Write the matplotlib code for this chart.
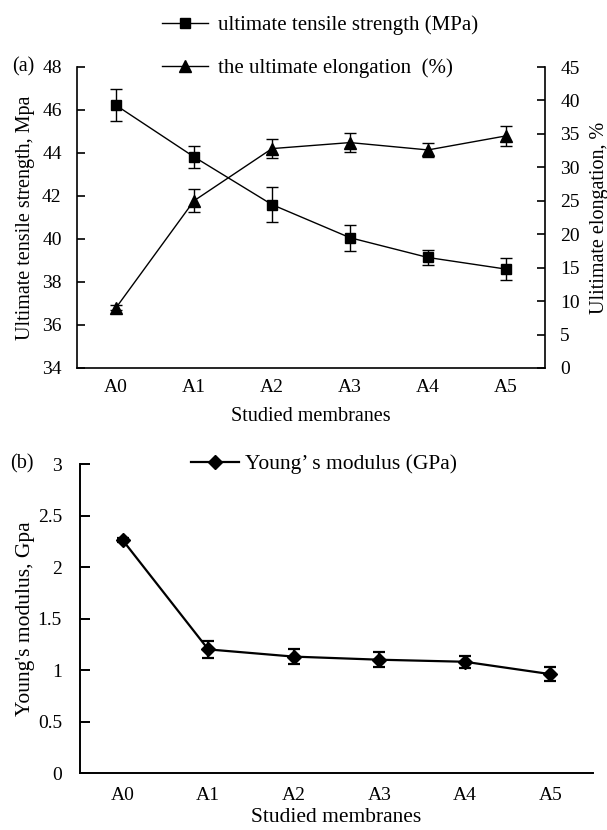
import matplotlib
matplotlib.use("Agg")
import matplotlib.pyplot as plt
from matplotlib.lines import Line2D

plt.rcParams['font.family'] = ['Liberation Serif', 'DejaVu Serif']

categories = ["A0", "A1", "A2", "A3", "A4", "A5"]
uts = [46.22, 43.82, 41.6, 40.06, 39.14, 38.6]
uts_err = [0.75, 0.5, 0.8, 0.6, 0.35, 0.5]
elong = [9.0, 25.0, 32.8, 33.7, 32.6, 34.7]
elong_err = [0.4, 1.7, 1.4, 1.4, 1.1, 1.5]
young = [2.26, 1.20, 1.13, 1.10, 1.08, 0.96]
young_err = [0.02, 0.08, 0.07, 0.07, 0.06, 0.065]

W, H = 607, 830
fig = plt.figure(figsize=(W / 100, H / 100), dpi=100)

def fx(px):
    return px / W

def fy(py):
    return 1 - py / H

FS = 14
LFS = 14.5
x = list(range(len(categories)))

# ---------- panel (a) ----------
ax1 = fig.add_axes([fx(77), fy(368), fx(545) - fx(77), fy(67) - fy(368)])
ax2 = ax1.twinx()
ax1.errorbar(x, uts, yerr=uts_err, color='black', marker='s', markersize=7.5,
             linewidth=1.0, elinewidth=1.0, capsize=4, capthick=1.0)
ax2.errorbar(x, elong, yerr=elong_err, color='black', marker='^', markersize=8.5,
             linewidth=1.0, elinewidth=1.0, capsize=4, capthick=1.0)
ax1.set_xlim(-0.5, 5.5)
ax1.set_ylim(34, 48)
ax1.set_yticks(range(34, 49, 2))
ax2.set_ylim(0, 45)
ax2.set_yticks(range(0, 46, 5))
ax1.set_xticks(x)
ax1.set_xticklabels(categories)
for a in (ax1, ax2):
    a.spines['top'].set_visible(False)
    for s in a.spines.values():
        s.set_linewidth(1.2)
ax1.spines['right'].set_visible(False)
ax2.spines['left'].set_visible(False)
ax2.spines['bottom'].set_visible(False)
ax1.tick_params(axis='y', direction='in', length=6, width=1.2, pad=11, labelsize=FS)
ax2.tick_params(axis='y', direction='in', length=6, width=1.2, pad=11, labelsize=FS)
ax1.tick_params(axis='x', length=0, pad=8, labelsize=FS)
ax1.set_ylabel("Ultimate tensile strength, Mpa", fontsize=LFS, labelpad=5)
ax2.set_ylabel("Ulitimate elongation, %", fontsize=LFS, labelpad=7)
ax1.set_xlabel("Studied membranes", fontsize=LFS, labelpad=8)
ax1.set_zorder(ax2.get_zorder() + 1)
ax1.patch.set_visible(False)

h1 = Line2D([], [], color='black', marker='s', markersize=7.5, linewidth=1.0)
h2 = Line2D([], [], color='black', marker='^', markersize=8.5, linewidth=1.0)
fig.legend([h1, h2], ["ultimate tensile strength (MPa)", "the ultimate elongation  (%)"],
           loc='upper left', bbox_to_anchor=(fx(143), fy(-3)), frameon=False,
           fontsize=15, labelspacing=1.1, handlelength=2.2, handletextpad=0.5)
fig.text(fx(12), fy(67), "(a)", fontsize=LFS, va='center', ha='left')

# ---------- panel (b) ----------
ax3 = fig.add_axes([fx(80), fy(773), fx(593) - fx(80), fy(464) - fy(773)])
ax3.errorbar(x, young, yerr=young_err, color='black', marker='D', markersize=7,
             linewidth=1.6, elinewidth=1.6, capsize=4.5, capthick=1.6)
ax3.set_xlim(-0.5, 5.5)
ax3.set_ylim(0, 3)
ax3.set_yticks([0, 0.5, 1, 1.5, 2, 2.5, 3])
ax3.set_yticklabels(["0", "0.5", "1", "1.5", "2", "2.5", "3"])
ax3.set_xticks(x)
ax3.set_xticklabels(categories)
ax3.spines['top'].set_visible(False)
ax3.spines['right'].set_visible(False)
for s in ax3.spines.values():
    s.set_linewidth(1.4)
ax3.tick_params(axis='y', direction='in', length=7, width=1.4, pad=13, labelsize=FS)
ax3.tick_params(axis='x', length=0, pad=10, labelsize=FS)
ax3.set_ylabel("Young's modulus, Gpa", fontsize=15.5, labelpad=2)
ax3.set_xlabel("Studied membranes", fontsize=15.5, labelpad=3)

h3 = Line2D([], [], color='black', marker='D', markersize=7, linewidth=1.6)
fig.legend([h3], ["Young\u2019 s modulus (GPa)"],
           loc='center left', bbox_to_anchor=(fx(172), fy(464)), frameon=False,
           fontsize=15.5, handlelength=2.2, handletextpad=0.3)
fig.text(fx(10), fy(464), "(b)", fontsize=LFS, va='center', ha='left')

fig.savefig("out.png", dpi=100)
